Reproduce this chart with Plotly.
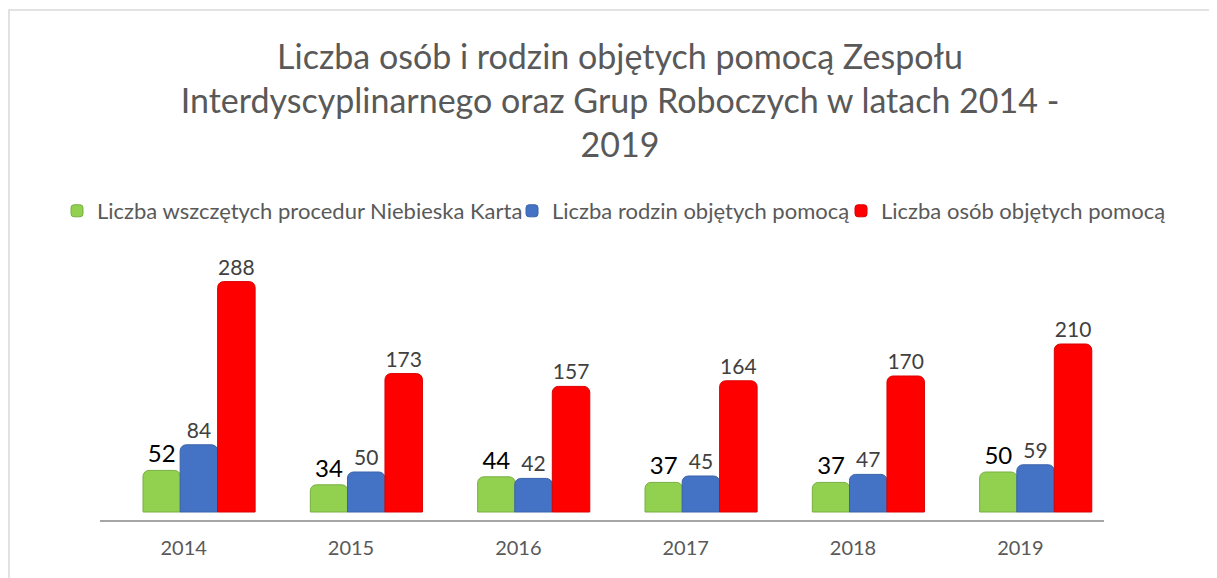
import plotly.graph_objects as go

years = ["2014", "2015", "2016", "2017", "2018", "2019"]
niebieska_karta = [52, 34, 44, 37, 37, 50]
rodziny = [84, 50, 42, 45, 47, 59]
osoby = [288, 173, 157, 164, 170, 210]

series_names = [
    "Liczba wszczętych procedur Niebieska Karta",
    "Liczba rodzin objętych pomocą",
    "Liczba osób objętych pomocą",
]
colors = ["#92D050", "#4472C4", "#FF0000"]
line_colors = ["#78AE42", "#3A62AA", "#D80000"]
label_fonts = [dict(size=24, color="#000000"), dict(size=21, color="#404040"), dict(size=21, color="#404040")]
bar_offsets = [-0.243, -0.021, 0.203]
bar_width = 0.224
legend_ids = ["legend", "legend2", "legend3"]
legend_text_x = [98, 553, 882]  # page px where legend text starts

FONT = "Lato"
W, H = 1217, 578
OFF = 8  # page body margin
# plot area in page pixels
PL, PR, PT, PB = 100, 1104, 256, 520
L, R, T, B = PL - OFF, W - (PR - OFF), PT - OFF, H - (PB - OFF)
pw, ph = W - L - R, H - T - B


def px_x(px):
    return (px - OFF - L) / pw


def px_y(py):
    return (H - B - (py - OFF)) / ph


fig = go.Figure()
for name, vals, c, lc, lf, off, lg in zip(series_names, [niebieska_karta, rodziny, osoby],
                                          colors, line_colors, label_fonts, bar_offsets, legend_ids):
    fig.add_trace(go.Bar(
        name=name, x=years, y=vals,
        offset=off, width=bar_width, legend=lg,
        marker=dict(color=c, line=dict(color=lc, width=1)),
        text=vals, textposition="outside", cliponaxis=False,
        textfont=dict(family=FONT, **lf),
    ))

legend_common = dict(
    orientation="h", xref="container", yref="container", xanchor="left",
    y=1 - (211 - OFF) / H, yanchor="middle",
    font=dict(family=FONT, size=22, color="#595959"),
    itemwidth=30, bgcolor="rgba(0,0,0,0)",
)
legends = {lg: dict(legend_common, x=(tx - 41 - OFF) / W) for lg, tx in zip(legend_ids, legend_text_x)}

fig.update_layout(
    width=W, height=H,
    margin=dict(l=L, r=R, t=T, b=B),
    paper_bgcolor="white", plot_bgcolor="white",
    barmode="overlay", barcornerradius=6,
    font=dict(family=FONT, color="#595959"),
    title=dict(
        text="Liczba osób i rodzin objętych pomocą Zespołu<br>Interdyscyplinarnego oraz Grup Roboczych w latach 2014 -<br>2019",
        x=(620 - OFF) / W, xanchor="center", xref="container",
        y=1 - (103 - OFF - 34) / H, yanchor="middle", yref="container",
        font=dict(family=FONT, size=34, color="#595959"),
    ),
    xaxis=dict(
        showline=True, linecolor="#A6A6A6", linewidth=2,
        ticks="", ticklabelstandoff=9,
        tickfont=dict(family=FONT, size=20, color="#595959"),
        showgrid=False,
    ),
    yaxis=dict(range=[-10, 320], visible=False, showgrid=False, zeroline=False),
    showlegend=True,
    shapes=[dict(
        type="rect", xref="paper", yref="paper",
        x0=px_x(OFF + 1), x1=px_x(1240), y0=px_y(600), y1=px_y(10),
        line=dict(color="#D9D9D9", width=1.5), fillcolor="rgba(0,0,0,0)", layer="below",
    )],
    **legends,
)

fig.write_html("out.html")
